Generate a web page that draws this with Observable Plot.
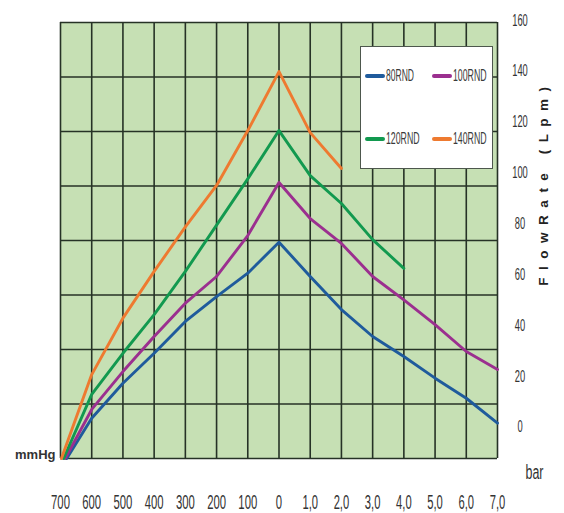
<!DOCTYPE html>
<html>
<head>
<meta charset="utf-8">
<script src="https://cdn.jsdelivr.net/npm/d3@7"></script>
<script src="https://cdn.jsdelivr.net/npm/@observablehq/plot@0.6"></script>
<style>
  body { margin: 0; background: #fff; }
  #wrap { position: relative; width: 564px; height: 513px; }
  #legend { position: absolute; left: 360px; top: 46px; width: 133px; height: 123px; box-sizing: border-box;
            background: #fff; border: 1.5px solid #4d574d; }
  .item { position: absolute; height: 16px; display: flex; align-items: center; }
  .sw { width: 20px; height: 4px; border-radius: 2px; flex: none; }
  .lab { font-family: "Liberation Sans", Arial, sans-serif; font-size: 17px; color: #3a3a3a;
         display: inline-block; transform-origin: left center; white-space: nowrap; margin-left: 1px; }
</style>
</head>
<body>
<div id="wrap"><div id="legend"></div></div>
<script>
// Position along the combined axis: negative = vacuum (x100 mmHg), positive = pressure (bar)
const xPos = [-7, -6, -5, -4, -3, -2, -1, 0, 1, 2, 3, 4, 5, 6, 7];
const xTickLabels = ["700", "600", "500", "400", "300", "200", "100", "0", "1,0", "2,0", "3,0", "4,0", "5,0", "6,0", "7,0"];
const yTicks = [0, 20, 40, 60, 80, 100, 120, 140, 160];

const seriesNames = ["80RND", "100RND", "120RND", "140RND"];
const seriesColors = ["#1f5b9c", "#9b2f8f", "#12994f", "#ee7a30"];

// Flow rate (Lpm)
const x80 = [-6.8, -6, -5, -4, -3, -2, -1, 0, 1, 2, 3, 4, 5, 6, 7];
const flow80 = [-12.3, 3.5, 17.3, 29.1, 41.6, 51.4, 60.6, 72.8, 59.3, 46.3, 35.7, 27.8, 19.3, 11.4, 1.6];
const x100 = [-6.85, -6, -5, -4, -3, -2, -1, 0, 1, 2, 3, 4, 5, 6, 7];
const flow100 = [-12.3, 7.0, 21.9, 35.7, 48.8, 59.3, 75.4, 96.3, 82.1, 72.3, 59.3, 50.1, 40.4, 29.8, 22.7];
const x120 = [-6.9, -6, -5, -4, -3, -2, -1, 0, 1, 2, 3, 4];
const flow120 = [-12.3, 12.9, 29.1, 44.3, 61.3, 79.5, 97.7, 116.7, 99.0, 88.0, 73.8, 62.5];
const x140 = [-6.97, -6, -5, -4, -3, -2, -1, 0, 1, 2];
const flow140 = [-12.3, 20.7, 42.9, 61.3, 78.8, 95.1, 116.7, 139.9, 115.9, 101.8];

// Chart paper (grid) extent in axis units
const gridBottom = -12.3, gridTop = 159.2;

const seriesX = [x80, x100, x120, x140];
const seriesY = [flow80, flow100, flow120, flow140];
const rows = [];
seriesNames.forEach((s, k) => seriesX[k].forEach((x, i) => rows.push({series: s, x, y: seriesY[k][i]})));
const gridY = d3.range(9).map(i => gridBottom + i * (gridTop - gridBottom) / 8);
const xMin = d3.min(xPos), xMax = d3.max(xPos);

const chart = Plot.plot({
  width: 564, height: 513,
  marginLeft: 60, marginRight: 67, marginTop: 20, marginBottom: 55,
  style: {fontFamily: "'Liberation Sans', Arial, sans-serif", color: "#333", background: "transparent"},
  x: {domain: [xMin, xMax], label: null},
  y: {domain: [gridBottom, 160], label: null},
  color: {domain: seriesNames, range: seriesColors},
  marks: [
    Plot.rect([{x1: xMin, x2: xMax, y1: gridBottom, y2: gridTop}], {x1: "x1", x2: "x2", y1: "y1", y2: "y2", fill: "#c6e0b4"}),
    Plot.ruleY(gridY, {x1: xMin, x2: xMax, stroke: "#263226", strokeWidth: 1.6}),
    Plot.ruleX(xPos, {y1: gridBottom, y2: gridTop, stroke: "#263226", strokeWidth: 1.6}),
    Plot.line(rows, {x: "x", y: "y", z: "series", stroke: "series", strokeWidth: 2.9, strokeLinejoin: "round"}),
    Plot.axisX(xPos, {tickFormat: d => xTickLabels[xPos.indexOf(d)], tickSize: 0, tickPadding: 36, fontSize: 21, label: null, fill: "#333"}),
    Plot.axisY(yTicks, {anchor: "right", tickSize: 0, tickPadding: 22.5, textAnchor: "middle", fontSize: 16, label: null, fill: "#333"}),
    Plot.text(["FlowRate (Lpm)"], {frameAnchor: "right", textAnchor: "middle", dx: 46, dy: -57, rotate: -90, fontWeight: "bold", fontSize: 13.5,
      fill: "#222"}),
    Plot.text(["mmHg"], {frameAnchor: "bottom-left", textAnchor: "end", dx: -5, fontWeight: "bold", fontSize: 13, fill: "#333"}),
    Plot.text(["bar"], {frameAnchor: "bottom-right", textAnchor: "middle", dx: 37, dy: 20, fontSize: 20, fill: "#333"})
  ]
});

const wrap = document.getElementById("wrap");
wrap.insertBefore(chart, wrap.firstChild);

// Condensed look of the printed labels: squeeze each text horizontally to a target width
const charW = (s, digit, comma, letter) => [...s].reduce((w, c) => w + (c === "," ? comma : /\d/.test(c) ? digit : letter), 0);
function squeezeTo(sel, target) {
  sel.each(function() {
    const w = this.getComputedTextLength();
    if (!w) return;
    const k = target(this.textContent) / w;
    const t = this.getAttribute("transform") || "";
    const x = +this.getAttribute("x") || 0;
    this.setAttribute("transform", `${t} translate(${x},0) scale(${k},1) translate(${-x},0)`);
  });
}
const svg = d3.select(chart);
const texts = svg.selectAll("text");
squeezeTo(texts.filter(function() { return xTickLabels.includes(this.textContent) && this.getBoundingClientRect().top > 470; }),
  s => charW(s, 6.3, 3, 6.3));
squeezeTo(texts.filter(function() { return yTicks.map(String).includes(this.textContent) && this.getBoundingClientRect().left > 500; }),
  s => charW(s, 5.2, 3, 5.2));
squeezeTo(texts.filter(function() { return this.textContent === "bar"; }), () => 18);
texts.filter(function() { return this.textContent === "FlowRate (Lpm)"; }).style("letter-spacing", "7.5px");

// Legend
const legend = d3.select("#legend");
const legendCols = [3.5, 70.5], legendRows = [21, 84];
seriesNames.forEach((s, i) => {
  const item = legend.append("div").attr("class", "item")
    .style("left", legendCols[i % 2] + "px").style("top", legendRows[Math.floor(i / 2)] + "px");
  item.append("div").attr("class", "sw").style("background", seriesColors[i]);
  const lab = item.append("span").attr("class", "lab").text(s);
  const w = lab.node().getBoundingClientRect().width;
  lab.style("transform", `scaleX(${(s.length * 5.6) / w})`);
});
</script>
</body>
</html>
